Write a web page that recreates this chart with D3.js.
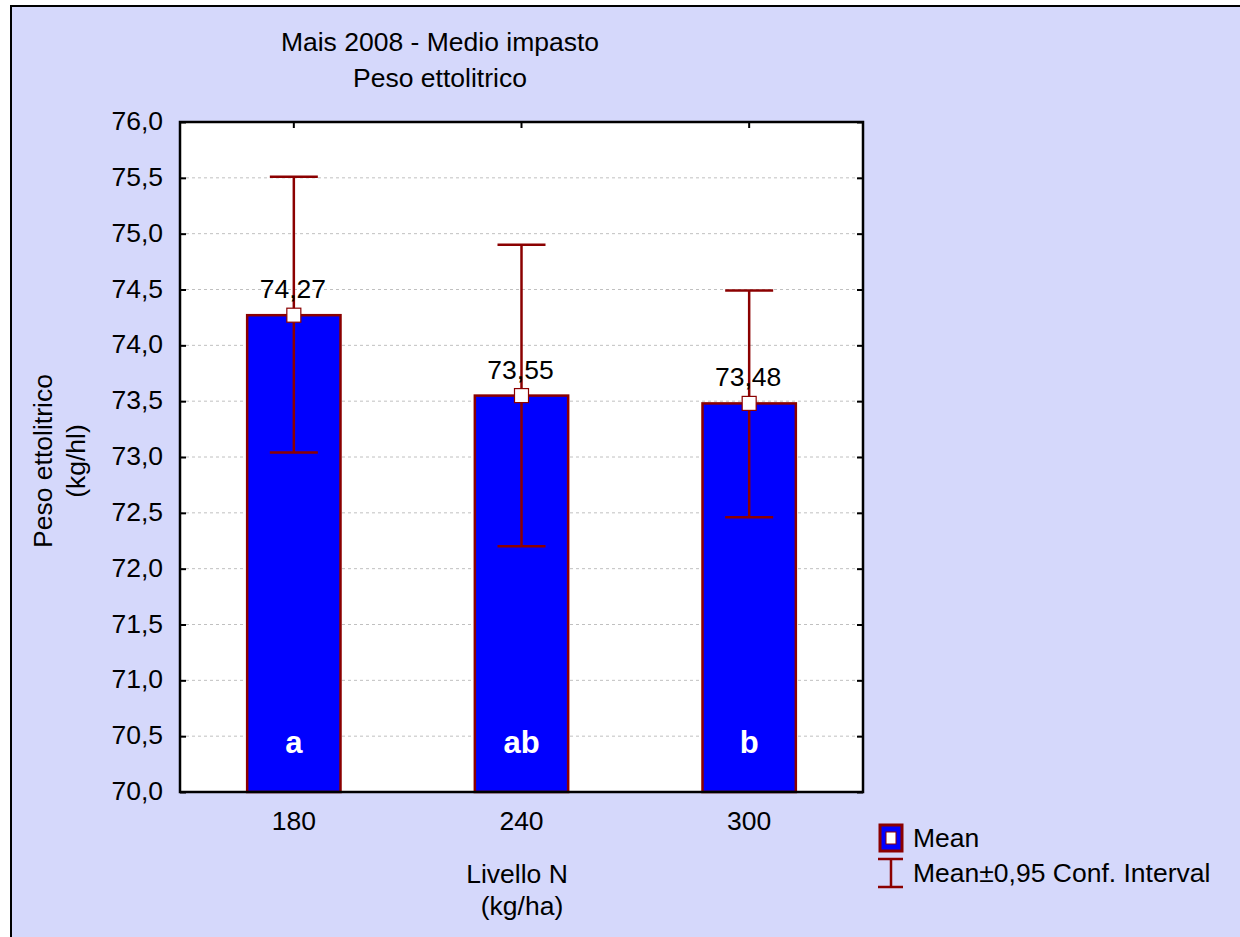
<!DOCTYPE html>
<html><head><meta charset="utf-8">
<script src="https://cdn.jsdelivr.net/npm/d3@7"></script>
<style>html,body{margin:0;padding:0;background:#fff;}svg{display:block;}</style>
</head><body>
<svg id="chart" width="1240" height="937"></svg>
<script>
const categories = ["180", "240", "300"];
const means = [74.27, 73.55, 73.48];
const ciUpper = [75.51, 74.90, 74.49];
const ciLower = [73.04, 72.20, 72.46];
const groupLetters = ["a", "ab", "b"];
const meanLabels = ["74,27", "73,55", "73,48"];
const yTicks = [70, 70.5, 71, 71.5, 72, 72.5, 73, 73.5, 74, 74.5, 75, 75.5, 76];
const titleLines = ["Mais 2008 - Medio impasto", "Peso ettolitrico"];
const yTitle = ["Peso ettolitrico", "(kg/hl)"];
const xTitle = ["Livello N", "(kg/ha)"];
const legendItems = ["Mean", "Mean\u00B10,95 Conf. Interval"];

const svg = d3.select("#chart");
const font = "'Liberation Sans', Arial, sans-serif";
const fs = 26.5;
const bg = "#D5D8FB", red = "#8B0000", blue = "#0000FF";

svg.append("rect").attr("x", 0).attr("y", 0).attr("width", 1240).attr("height", 937).attr("fill", "#fff");
svg.append("rect").attr("x", 11).attr("y", 6).attr("width", 1240).attr("height", 940)
  .attr("fill", bg).attr("stroke", "#000").attr("stroke-width", 2);

const L = 180, R = 863, T = 122, B = 792;
const x = d3.scaleBand().domain(categories).range([L, R]).paddingInner(0.59).paddingOuter(0.295);
const xc = d => x(d) + x.bandwidth() / 2;
const y = d3.scaleLinear().domain([70, 76]).range([B, T]);

svg.append("rect").attr("x", L).attr("y", T).attr("width", R - L).attr("height", B - T).attr("fill", "#fff");

// grid
svg.append("g").selectAll("line").data(yTicks.filter(v => v > 70 && v < 76)).join("line")
  .attr("x1", L).attr("x2", R).attr("y1", d => y(d)).attr("y2", d => y(d))
  .attr("stroke", "#c0c0c0").attr("stroke-width", 1).attr("stroke-dasharray", "3,3");

const fmt = d => d3.format(".1f")(d).replace(".", ",");

// axes with inner ticks
const gl = svg.append("g").attr("transform", `translate(${L},0)`)
  .call(d3.axisRight(y).tickValues(yTicks).tickSize(6).tickFormat(""));
const gr = svg.append("g").attr("transform", `translate(${R},0)`)
  .call(d3.axisLeft(y).tickValues(yTicks).tickSize(6).tickFormat(""));
const gb = svg.append("g").attr("transform", `translate(0,${B})`)
  .call(d3.axisTop(x).tickSize(6).tickFormat(""));
const gt = svg.append("g").attr("transform", `translate(0,${T})`)
  .call(d3.axisBottom(x).tickSize(6).tickFormat(""));
[gl, gr, gb, gt].forEach(g => {
  g.select(".domain").remove();
  g.selectAll("line").attr("stroke", "#000").attr("stroke-width", 2);
});

// y tick labels
svg.append("g").selectAll("text").data(yTicks).join("text")
  .attr("x", L - 17).attr("y", d => y(d) + 8)
  .attr("text-anchor", "end").attr("font-family", font).attr("font-size", fs).attr("fill", "#000")
  .text(fmt);
// x tick labels
svg.append("g").selectAll("text").data(categories).join("text")
  .attr("x", d => xc(d)).attr("y", 830).attr("text-anchor", "middle")
  .attr("font-family", font).attr("font-size", fs).attr("fill", "#000").text(d => d);

// bars
svg.append("g").selectAll("rect").data(categories).join("rect")
  .attr("x", d => x(d)).attr("width", x.bandwidth())
  .attr("y", (d, i) => y(means[i])).attr("height", (d, i) => B - y(means[i]))
  .attr("fill", blue).attr("stroke", red).attr("stroke-width", 2.5);

// frame
svg.append("rect").attr("x", L).attr("y", T).attr("width", R - L).attr("height", B - T)
  .attr("fill", "none").attr("stroke", "#000").attr("stroke-width", 2.5);

// error bars
const eb = svg.append("g");
categories.forEach((c, i) => {
  const cx = xc(c);
  eb.append("line").attr("x1", cx).attr("x2", cx).attr("y1", y(ciUpper[i])).attr("y2", y(ciLower[i]))
    .attr("stroke", red).attr("stroke-width", 2.5);
  [ciUpper[i], ciLower[i]].forEach(v => {
    eb.append("line").attr("x1", cx - 24).attr("x2", cx + 24).attr("y1", y(v)).attr("y2", y(v))
      .attr("stroke", red).attr("stroke-width", 2.5);
  });
  eb.append("rect").attr("x", cx - 7).attr("y", y(means[i]) - 7).attr("width", 14).attr("height", 14)
    .attr("fill", "#fff").attr("stroke", red).attr("stroke-width", 1.2);
  eb.append("text").attr("x", cx - 1).attr("y", y(means[i]) - 17).attr("text-anchor", "middle")
    .attr("font-family", font).attr("font-size", fs).attr("fill", "#000").text(meanLabels[i]);
  eb.append("text").attr("x", cx).attr("y", 753).attr("text-anchor", "middle")
    .attr("font-family", font).attr("font-size", 31).attr("font-weight", "bold").attr("fill", "#fff").text(groupLetters[i]);
});

// titles
const titleY = [51, 87];
titleLines.forEach((t, i) => {
  svg.append("text").attr("x", 440).attr("y", titleY[i]).attr("text-anchor", "middle")
    .attr("font-family", font).attr("font-size", fs).attr("fill", "#000").text(t);
});
const xTitleX = [517, 522];
xTitle.forEach((t, i) => {
  svg.append("text").attr("x", xTitleX[i]).attr("y", 883 + i * 32).attr("text-anchor", "middle")
    .attr("font-family", font).attr("font-size", fs).attr("fill", "#000").text(t);
});
const yTitleX = [52, 85];
yTitle.forEach((t, i) => {
  svg.append("text").attr("transform", `translate(${yTitleX[i]},461) rotate(-90)`).attr("text-anchor", "middle")
    .attr("font-family", font).attr("font-size", fs).attr("fill", "#000").text(t);
});

// legend
const lg = svg.append("g");
lg.append("rect").attr("x", 880).attr("y", 825).attr("width", 22).attr("height", 26)
  .attr("fill", blue).attr("stroke", red).attr("stroke-width", 3);
lg.append("rect").attr("x", 886).attr("y", 832).attr("width", 10).attr("height", 12)
  .attr("fill", "#fff").attr("stroke", red).attr("stroke-width", 1);
lg.append("line").attr("x1", 891).attr("x2", 891).attr("y1", 859).attr("y2", 887).attr("stroke", red).attr("stroke-width", 2.5);
lg.append("line").attr("x1", 878).attr("x2", 903).attr("y1", 859).attr("y2", 859).attr("stroke", red).attr("stroke-width", 2.5);
lg.append("line").attr("x1", 878).attr("x2", 903).attr("y1", 887).attr("y2", 887).attr("stroke", red).attr("stroke-width", 2.5);
legendItems.forEach((t, i) => {
  lg.append("text").attr("x", 913).attr("y", 847 + i * 35)
    .attr("font-family", font).attr("font-size", fs).attr("fill", "#000").text(t);
});
</script>
</body></html>
